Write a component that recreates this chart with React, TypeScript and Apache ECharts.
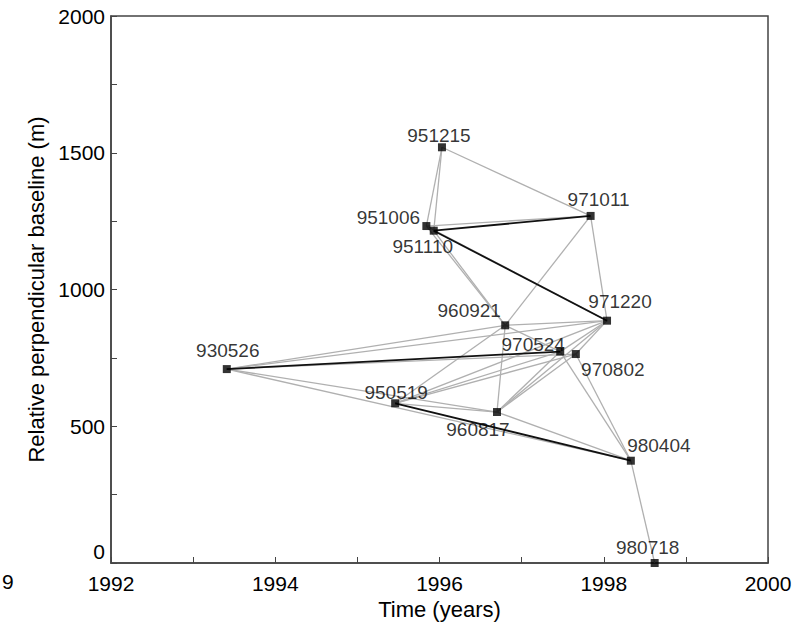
import React, { useEffect, useRef } from "react";
import * as echarts from "echarts";

// Acquisition names, times (decimal years) and relative perpendicular baselines (m)
const nodeNames = ["930526", "950519", "951006", "951110", "951215", "960817", "960921", "970524", "970802", "971011", "971220", "980404", "980718"];
const nodeTimes = [1993.41, 1995.46, 1995.84, 1995.93, 1996.03, 1996.7, 1996.8, 1997.47, 1997.66, 1997.84, 1998.04, 1998.33, 1998.62];
const nodeBaselines = [709, 584, 1232, 1215, 1520, 552, 869, 773, 764, 1269, 886, 374, 0];

// Interferometric pairs (gray) and the highlighted pairs (dark)
const grayPairs = [
  ["930526", "960921"], ["930526", "971220"], ["930526", "970802"], ["930526", "960817"], ["930526", "980404"],
  ["950519", "960921"], ["950519", "971220"], ["950519", "970524"], ["950519", "970802"], ["950519", "960817"],
  ["951006", "951215"], ["951110", "951215"], ["951215", "971011"], ["951006", "971011"], ["951006", "971220"],
  ["951006", "960921"], ["951110", "960921"],
  ["960817", "960921"], ["960817", "971220"], ["960817", "970524"], ["960817", "970802"], ["960817", "980404"],
  ["960921", "971011"], ["960921", "971220"], ["960921", "970524"],
  ["970524", "971220"], ["970802", "971220"], ["971011", "971220"],
  ["970524", "980404"], ["970802", "980404"], ["980404", "980718"],
];
const darkPairs = [
  ["930526", "970524"], ["951110", "971011"], ["951110", "971220"], ["950519", "980404"],
];

const xTicks = [1992, 2000, 2];
const yTicks = [0, 2000, 500];

// label placement (pixel offsets of label centre from marker) — styling only
const labelOffsets: Record<string, [number, number]> = {
  "930526": [1, -19],
  "950519": [1, -11],
  "951006": [-38, -9],
  "951110": [-11, 16],
  "951215": [-3, -12],
  "960817": [-19, 17],
  "960921": [-36, -15],
  "970524": [-27, -7],
  "970802": [37, 15],
  "971011": [8, -16],
  "971220": [13, -19],
  "980404": [28, -15],
  "980718": [-7, -16],
};

const FONT = "'Liberation Sans', Arial, Helvetica, sans-serif";
const INK = "#000";

function coordOf(name: string): [number, number] {
  const i = nodeNames.indexOf(name);
  return [nodeTimes[i], nodeBaselines[i]];
}

export default function App() {
  const ref = useRef<HTMLDivElement>(null);
  useEffect(() => {
    if (!ref.current) return;
    const chart = echarts.init(ref.current, undefined, { renderer: "svg" });
    const option: any = {
      animation: false,
      backgroundColor: "#ffffff",
      grid: {
        left: 111,
        right: 35,
        top: 16,
        bottom: 65,
        show: true,
        borderColor: "#444",
        borderWidth: 1.5,
        backgroundColor: "transparent",
      },
      xAxis: {
        type: "value",
        min: xTicks[0],
        max: xTicks[1],
        interval: xTicks[2],
        name: "Time (years)",
        nameLocation: "middle",
        nameGap: 34,
        nameTextStyle: { fontFamily: FONT, fontSize: 22, color: INK },
        axisLine: { show: true, lineStyle: { color: "#444", width: 1.5 } },
        axisTick: { show: true, inside: true, length: 6, lineStyle: { color: "#444" } },
        minorTick: { show: true, splitNumber: 2, length: 6, lineStyle: { color: "#444" } },
        splitLine: { show: false },
        axisLabel: { fontFamily: FONT, fontSize: 21, color: INK, margin: 10, formatter: (v: number) => String(v) },
      },
      yAxis: {
        type: "value",
        min: yTicks[0],
        max: yTicks[1],
        interval: yTicks[2],
        name: "Relative perpendicular baseline (m)",
        nameLocation: "middle",
        nameGap: 62,
        nameTextStyle: { fontFamily: FONT, fontSize: 22, color: INK },
        axisLine: { show: true, lineStyle: { color: "#444", width: 1.5 } },
        axisTick: { show: true, inside: true, length: 6, lineStyle: { color: "#444" } },
        minorTick: { show: true, splitNumber: 2, length: 6, lineStyle: { color: "#444" } },
        splitLine: { show: false },
        axisLabel: {
          fontFamily: FONT,
          fontSize: 21,
          color: INK,
          margin: 6,
          formatter: (v: number) => (v === 0 ? "{z|0}" : String(v)),
          rich: { z: { fontFamily: FONT, fontSize: 21, color: INK, padding: [0, 0, 24, 0] } },
        },
      },
      graphic: [
        { type: "text", left: 2, top: 571, style: { text: "9", fontFamily: FONT, fontSize: 21, fill: INK } },
      ],
      series: [
        {
          type: "lines",
          coordinateSystem: "cartesian2d",
          polyline: false,
          silent: true,
          lineStyle: { color: "#b0b0b0", width: 1.3, opacity: 1 },
          data: grayPairs.map(([a, b]) => ({ coords: [coordOf(a), coordOf(b)] })),
          z: 2,
        },
        {
          type: "lines",
          coordinateSystem: "cartesian2d",
          polyline: false,
          silent: true,
          lineStyle: { color: "#111", width: 1.8, opacity: 1 },
          data: darkPairs.map(([a, b]) => ({ coords: [coordOf(a), coordOf(b)] })),
          z: 3,
        },
        {
          type: "scatter",
          symbol: "rect",
          symbolSize: 8,
          itemStyle: { color: "#000" },
          z: 4,
          data: nodeNames.map((n, i) => ({
            name: n,
            value: [nodeTimes[i], nodeBaselines[i]],
            label: {
              show: true,
              formatter: n,
              position: "inside",
              offset: labelOffsets[n],
              align: "center",
              verticalAlign: "middle",
              fontFamily: FONT,
              fontSize: 19,
              color: INK,
            },
          })),
        },
      ],
    };
    chart.setOption(option);
    return () => chart.dispose();
  }, []);
  return (
    <div
      ref={ref}
      style={{ position: "absolute", left: 0, top: 0, width: 803, height: 628 }}
    />
  );
}
